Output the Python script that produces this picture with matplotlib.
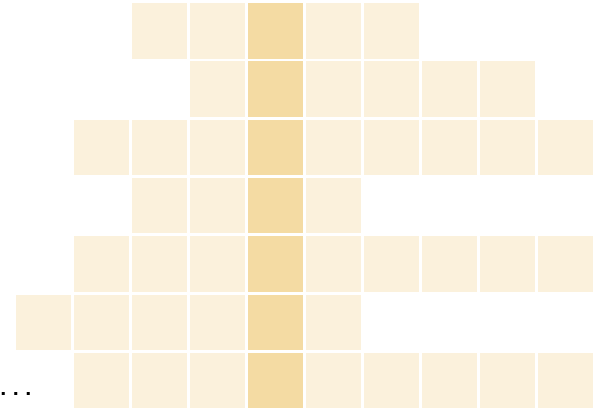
import matplotlib
matplotlib.use("Agg")
import matplotlib.pyplot as plt

# Each row: first and last filled column (inclusive)
row_starts = [2, 3, 1, 2, 1, 0, 1]
row_ends = [6, 8, 9, 5, 9, 5, 9]
highlight_col = 4
row_labels = ["", "", "", "", "", "", ". . ."]

light = "#FBF1DC"
dark = "#F4DBA3"

fig = plt.figure(figsize=(5.99, 4.12), dpi=100)
ax = fig.add_axes([0, 0, 1, 1])

col_pitch = 58.0
row_pitch = 58.3
cell_w = 55 / col_pitch
cell_h = 55.5 / row_pitch

for r, (s, e) in enumerate(zip(row_starts, row_ends)):
    cols = list(range(s, e + 1))
    colors = [dark if c == highlight_col else light for c in cols]
    ax.bar(cols, [cell_h] * len(cols), bottom=r, width=cell_w, align="edge",
           color=colors, linewidth=0)
    if row_labels[r]:
        ax.text(-0.275, r + 0.73, row_labels[r], fontsize=12.5, fontweight="bold",
                family="DejaVu Sans", color="#000000", va="baseline", ha="left")

ax.set_xlim(-16 / col_pitch, (599 - 16) / col_pitch)
ax.set_ylim((412 - 3) / row_pitch, -3 / row_pitch)
ax.axis("off")

fig.savefig("out.png", dpi=100)
